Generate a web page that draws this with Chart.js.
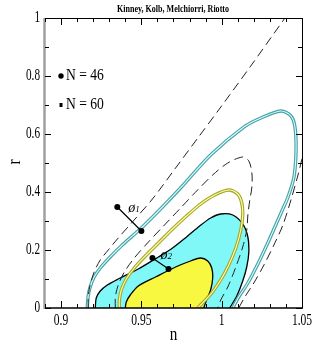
<!DOCTYPE html>
<html>
<head>
<meta charset="utf-8">
<script src="https://cdn.jsdelivr.net/npm/chart.js@4.4.0/dist/chart.umd.min.js"></script>
<style>
html, body { margin: 0; padding: 0; background: #fff; }
</style>
</head>
<body>
<canvas id="myChart" width="314" height="354"></canvas>
<script>
// valeurs : [n, r]
const xTickValues = [0.9, 0.95, 1, 1.05];
const xTickLabels = ['0.9', '0.95', '1', '1.05'];
const yTickValues = [0, 0.2, 0.4, 0.6, 0.8, 1];
const yTickLabels = ['0', '0.2', '0.4', '0.6', '0.8', '1'];

// contour 2 sigma en tirets (deux branches coupees par le cadre)
const dash2Left = [[0.9169, 0], [0.9169, 0.0379], [0.9181, 0.0793], [0.9206, 0.1241], [0.9244, 0.1655],
  [0.9294, 0.2], [0.9356, 0.2414], [0.9444, 0.2966], [0.9569, 0.3759], [0.9713, 0.4828],
  [0.9856, 0.5897], [0.9981, 0.6828], [1.0181, 0.8345], [1.0394, 1.0], [1.0444, 1.0379]];
const dash2Right = [[1.0106, 0], [1.0144, 0.0379], [1.02, 0.0862], [1.0263, 0.1483], [1.0325, 0.2172],
  [1.0381, 0.2862], [1.0431, 0.3724], [1.0475, 0.4586], [1.0506, 0.5276], [1.0531, 0.5793]];
// contour 1 sigma en tirets
const dash1 = [[0.9338, 0], [0.9338, 0.0379], [0.9356, 0.0793], [0.9394, 0.1241], [0.9456, 0.1724],
  [0.9538, 0.2241], [0.9638, 0.2828], [0.9744, 0.3448], [0.985, 0.4069], [0.9944, 0.4586],
  [1.0038, 0.5], [1.0131, 0.5207], [1.0169, 0.5069], [1.0188, 0.4655], [1.0188, 0.4172],
  [1.0175, 0.3724], [1.0163, 0.3207], [1.0156, 0.269], [1.0131, 0.2103], [1.0088, 0.1414],
  [1.0038, 0.0724], [0.9994, 0.0276], [0.9975, 0]];
// double trait cyan (2 sigma)
const cyan2 = [[0.9163, 0], [0.9169, 0.0414], [0.9181, 0.0724], [0.9206, 0.1069], [0.9244, 0.1379],
  [0.9306, 0.1759], [0.9381, 0.2172], [0.95, 0.2759], [0.9619, 0.3414], [0.9744, 0.4138],
  [0.9931, 0.5276], [1.0138, 0.6241], [1.0244, 0.6552], [1.0369, 0.6793], [1.0431, 0.6621],
  [1.0456, 0.6241], [1.0463, 0.5448], [1.045, 0.4517], [1.0413, 0.3828], [1.0375, 0.3345],
  [1.0331, 0.2793], [1.0281, 0.2172], [1.0225, 0.1517], [1.0163, 0.0862], [1.0106, 0.0379], [1.0069, 0]];
// double trait jaune (1 sigma)
const yellow1 = [[0.9363, 0], [0.9363, 0.0276], [0.9375, 0.0621], [0.9406, 0.1], [0.9456, 0.1379],
  [0.9525, 0.1793], [0.9606, 0.2241], [0.9694, 0.2724], [0.9781, 0.3172], [0.9869, 0.3586],
  [0.9956, 0.3897], [1.0044, 0.4069], [1.01, 0.3931], [1.0125, 0.3621], [1.0131, 0.3207],
  [1.0119, 0.269], [1.0088, 0.2069], [1.0044, 0.1483], [0.9994, 0.0966], [0.9938, 0.0517],
  [0.9881, 0.0172], [0.985, 0]];
// zones pleines
const fill2 = [[0.9213, 0], [0.9219, 0.0345], [0.9244, 0.0586], [0.9288, 0.0793], [0.9356, 0.1],
  [0.9481, 0.1345], [0.9606, 0.1759], [0.9694, 0.2069], [0.9781, 0.2448], [0.9863, 0.2828],
  [0.9931, 0.3103], [0.9994, 0.3241], [1.0069, 0.3207], [1.0131, 0.2897], [1.0163, 0.2448],
  [1.0169, 0.1931], [1.0156, 0.1414], [1.0131, 0.0931], [1.0094, 0.0414], [1.005, 0]];
const fill1 = [[0.94, 0], [0.9406, 0.0207], [0.9431, 0.0448], [0.9481, 0.0759], [0.9588, 0.1069],
  [0.9713, 0.1414], [0.9806, 0.1621], [0.9869, 0.1724], [0.9913, 0.1621], [0.9938, 0.1379],
  [0.9944, 0.1034], [0.9931, 0.0621], [0.9906, 0.0276], [0.9888, 0]];
// predictions phi1, phi2 (N = 46 puis N = 60)
const phi1 = [[0.935, 0.3483], [0.95, 0.2655]];
const phi2 = [[0.9569, 0.1724], [0.9669, 0.1345]];

function pts(a) { return a.map(p => ({x: p[0], y: p[1]})); }

function lineSet(data, color, width, dash, order) {
  return {
    data: pts(data), showLine: true, borderColor: color, borderWidth: width,
    borderDash: dash || [], pointRadius: 0, tension: 0.3, fill: false, clip: 0, order: order
  };
}
function fillSet(data, color, order) {
  return {
    data: pts(data), showLine: true, borderColor: '#000', borderWidth: 1.3,
    backgroundColor: color, pointRadius: 0, tension: 0.3, fill: 'shape', clip: 0, order: order
  };
}

const datasets = [
  fillSet(fill2, '#80f8f8', 20),
  fillSet(fill1, '#f8f840', 19),
  lineSet(yellow1, '#a8a82c', 3.4, null, 18),
  lineSet(yellow1, '#ffffa8', 1.1, null, 17),
  lineSet(dash1, '#222', 1, [9, 5], 16),
  lineSet(cyan2, '#4aa2a6', 3.4, null, 15),
  lineSet(cyan2, '#d4ffff', 1.1, null, 14),
  lineSet(dash2Left, '#222', 1, [9, 5], 13),
  lineSet(dash2Right, '#222', 1, [9, 5], 12),
  lineSet(phi1, '#000', 1.2, null, 11),
  lineSet(phi2, '#000', 1.2, null, 10),
  { data: pts(phi1.concat(phi2)), showLine: false, pointRadius: 3, pointBackgroundColor: '#000',
    pointBorderWidth: 0, clip: 0, order: 1 }
];

// texte resserre (police de type Hershey)
function squeezed(ctx, text, px, py, size, sx, align, weight) {
  ctx.save();
  ctx.font = (weight || '') + ' ' + size + 'px "Liberation Serif"';
  const w = ctx.measureText(text).width * sx;
  const x0 = align === 'center' ? px - w / 2 : (align === 'right' ? px - w : px);
  ctx.translate(x0, py);
  ctx.scale(sx, 1);
  ctx.textAlign = 'left';
  ctx.textBaseline = 'middle';
  ctx.fillStyle = '#000';
  ctx.fillText(text, 0, 0);
  ctx.restore();
}

const cadre = {
  id: 'cadre',
  afterDatasetsDraw(c) {
    const {ctx, chartArea: a, scales: {x, y}} = c;
    ctx.save();
    // cadre
    ctx.strokeStyle = '#000';
    ctx.lineWidth = 1;
    ctx.beginPath();
    ctx.moveTo(a.left, a.top + 0.5);
    ctx.lineTo(a.right + 0.5, a.top + 0.5);
    ctx.lineTo(a.right + 0.5, a.bottom);
    ctx.stroke();
    ctx.lineWidth = 1.5;
    ctx.beginPath();
    ctx.moveTo(a.left, a.bottom);
    ctx.lineTo(a.right + 1, a.bottom);
    ctx.stroke();
    ctx.strokeStyle = '#a0a0a0';
    ctx.lineWidth = 2.5;
    ctx.beginPath();
    ctx.moveTo(a.left - 0.5, a.top);
    ctx.lineTo(a.left - 0.5, a.bottom + 1);
    ctx.stroke();

    // graduations vers l'interieur
    ctx.strokeStyle = '#000';
    ctx.lineWidth = 1;
    ctx.beginPath();
    for (let i = 89; i <= 105; i++) {
      const px = Math.round(x.getPixelForValue(i / 100)) + 0.5;
      const len = (i % 5 === 0) ? 7 : 4;
      ctx.moveTo(px, a.bottom);
      ctx.lineTo(px, a.bottom - len);
      ctx.moveTo(px, a.top);
      ctx.lineTo(px, a.top + len);
    }
    for (let i = 0; i <= 10; i++) {
      const py = Math.round(y.getPixelForValue(i / 10)) + 0.5;
      const len = (i % 2 === 0) ? 6 : 4;
      ctx.moveTo(a.left, py);
      ctx.lineTo(a.left + len, py);
      ctx.moveTo(a.right, py);
      ctx.lineTo(a.right - len, py);
    }
    ctx.stroke();

    // etiquettes des axes
    x.ticks.forEach((t, i) => {
      squeezed(ctx, xTickLabels[i], x.getPixelForValue(t.value), a.bottom + 13, 17, 0.68, 'center');
    });
    y.ticks.forEach((t, i) => {
      squeezed(ctx, yTickLabels[i], a.left - 5, y.getPixelForValue(t.value), 17, 0.66, 'right');
    });
    squeezed(ctx, 'n', (a.left + a.right) / 2, a.bottom + 27, 19, 0.8, 'center');
    ctx.save();
    ctx.translate(15, 162);
    ctx.rotate(-Math.PI / 2);
    squeezed(ctx, 'r', 0, 0, 18, 0.85, 'center');
    ctx.restore();

    // titre
    ctx.save();
    ctx.font = 'bold 10px "Liberation Serif"';
    const tw = ctx.measureText('Kinney, Kolb, Melchiorri, Riotto').width;
    ctx.restore();
    squeezed(ctx, 'Kinney, Kolb, Melchiorri, Riotto', 173, 9, 10, 112 / tw, 'center', 'bold');

    // legende
    const lx = a.left + 16;
    const ly1 = y.getPixelForValue(0.8);
    const ly2 = y.getPixelForValue(0.7);
    ctx.fillStyle = '#000';
    ctx.beginPath();
    ctx.arc(lx, ly1, 2.7, 0, Math.PI * 2);
    ctx.fill();
    ctx.fillRect(lx - 1.5, ly2 - 2, 3, 4);
    squeezed(ctx, 'N = 46', lx + 5, ly1, 17, 0.8, 'left');
    squeezed(ctx, 'N = 60', lx + 5, ly2, 17, 0.8, 'left');

    // noms phi
    const p1x = x.getPixelForValue(phi1[0][0]), p1y = y.getPixelForValue(phi1[0][1]);
    const p2x = x.getPixelForValue(phi2[0][0]), p2y = y.getPixelForValue(phi2[0][1]);
    ctx.font = 'italic 14px "Liberation Serif"';
    ctx.textBaseline = 'middle';
    ctx.fillText('\u00f8', p1x + 11, p1y + 1);
    ctx.fillText('\u00f8', p2x + 8, p2y - 3);
    ctx.font = 'italic 9px "Liberation Serif"';
    ctx.fillText('1', p1x + 18, p1y + 3);
    ctx.fillText('2', p2x + 15, p2y - 1);
    ctx.restore();
  }
};

const ctx = document.getElementById('myChart').getContext('2d');
const chart = new Chart(ctx, {
  type: 'scatter',
  data: { datasets },
  options: {
    responsive: false,
    animation: false,
    events: [],
    layout: { padding: { top: 18, right: 12, left: 0, bottom: 0 } },
    scales: {
      x: {
        type: 'linear', min: 0.89, max: 1.05,
        grid: { display: false }, border: { display: false }, ticks: { display: false },
        afterBuildTicks: s => { s.ticks = xTickValues.map(v => ({value: v})); },
        afterFit: s => { s.height = 46; }
      },
      y: {
        type: 'linear', min: 0, max: 1,
        grid: { display: false }, border: { display: false }, ticks: { display: false },
        afterBuildTicks: s => { s.ticks = yTickValues.map(v => ({value: v})); },
        afterFit: s => { s.width = 45; }
      }
    },
    plugins: {
      legend: { display: false },
      tooltip: { enabled: false }
    }
  },
  plugins: [cadre]
});
</script>
</body>
</html>
